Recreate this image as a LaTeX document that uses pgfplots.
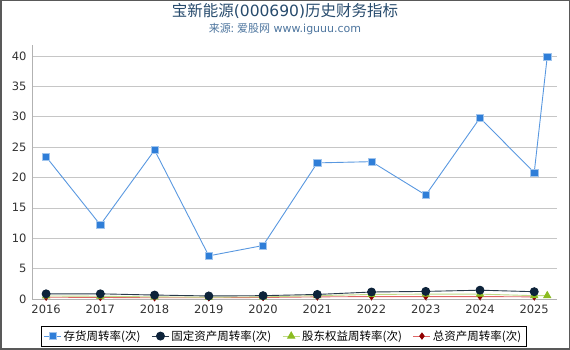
\documentclass[border=0pt]{standalone}
\usepackage{pgfplots}
\pgfplotsset{compat=1.18}
\usepackage{fontspec}
\setmainfont{DejaVu Sans}
\newfontfamily\cjk{Noto Sans CJK SC}
\definecolor{cblue}{HTML}{2F7ED8}
\definecolor{cnavy}{HTML}{0D233A}
\definecolor{cgreen}{HTML}{8BBC21}
\definecolor{cred}{HTML}{910000}
\definecolor{titlec}{HTML}{274B6D}
\definecolor{subc}{HTML}{4D759E}
\begin{document}
\begin{tikzpicture}
\path (0pt,0pt) rectangle (570pt,350pt);
\draw[gray!70!black,line width=1.5pt] (0.75pt,0.75pt) rectangle (569.25pt,349.25pt);
\node[text=titlec,font=\fontsize{15.5}{17}\selectfont] at (285pt,339pt) {{\cjk 宝新能源}(000690){\cjk 历史财务指标}};
\node[text=subc,font=\fontsize{11}{13}\selectfont] at (285pt,321pt) {{\cjk 来源: 爱股网} www.iguuu.com};
\begin{axis}[
  at={(32pt,51pt)}, anchor=south west,
  scale only axis, width=525pt, height=254pt,
  xmin=2015.74, xmax=2025.42, ymin=0, ymax=41.8,
  xtick={2016,...,2025}, ytick={0,5,...,40},
  /pgf/number format/1000 sep={},
  /pgf/number format/assume math mode=true,
  tick label style={font=\fontsize{11.5}{13}\selectfont, text=black!80},
  axis x line=bottom, axis y line=left,
  axis line style={gray!60, -},
  x tick style={gray!60}, y tick style={draw=none},
  major tick length=4pt,
  ymajorgrids, grid style={gray!45, line width=0.6pt},
  clip=false,
  reverse legend,
  legend style={at={(0.479,-0.146)}, anchor=center, legend columns=4,
    draw=black, font=\fontsize{11.5}{13}\selectfont\cjk, inner sep=2.5pt,
    /tikz/every even column/.append style={column sep=9pt}},
  legend cell align=left,
]
\addplot[color=cred!50!red!60, line width=0.9pt, mark=diamond*, mark size=3pt,
  mark options={fill=cred, draw=cred}] coordinates {
(2016,0.3) (2017,0.25) (2018,0.2) (2019,0.2) (2020,0.25) (2021,0.35) (2022,0.4) (2023,0.4) (2024,0.4) (2025,0.35)};
\addlegendentry{总资产周转率(次)}
\addplot[color=cgreen!55, line width=0.9pt, mark=triangle*, mark size=4pt,
  mark options={fill=cgreen, draw=cgreen}] coordinates {
(2016,0.5) (2017,0.45) (2018,0.35) (2019,0.3) (2020,0.35) (2021,0.55) (2022,0.75) (2023,0.8) (2024,0.8) (2025,0.55) (2025.24,0.55)};
\addlegendentry{股东权益周转率(次)}
\addplot[color=cnavy!75!gray, line width=0.9pt, mark=*, mark size=4pt,
  mark options={fill=cnavy, draw=cnavy}] coordinates {
(2016,0.85) (2017,0.85) (2018,0.65) (2019,0.5) (2020,0.55) (2021,0.75) (2022,1.15) (2023,1.25) (2024,1.45) (2025,1.2)};
\addlegendentry{固定资产周转率(次)}
\addplot[color=cblue!80, line width=0.9pt, mark=square*, mark size=3.6pt,
  mark options={fill=cblue, draw=cblue!45, line width=0.6pt}] coordinates {
(2016,23.4) (2017,12.2) (2018,24.5) (2019,7.1) (2020,8.8) (2021,22.4) (2022,22.6) (2023,17.1) (2024,29.8) (2025,20.8) (2025.24,39.9)};
\addlegendentry{存货周转率(次)}
\end{axis}
\end{tikzpicture}
\end{document}
